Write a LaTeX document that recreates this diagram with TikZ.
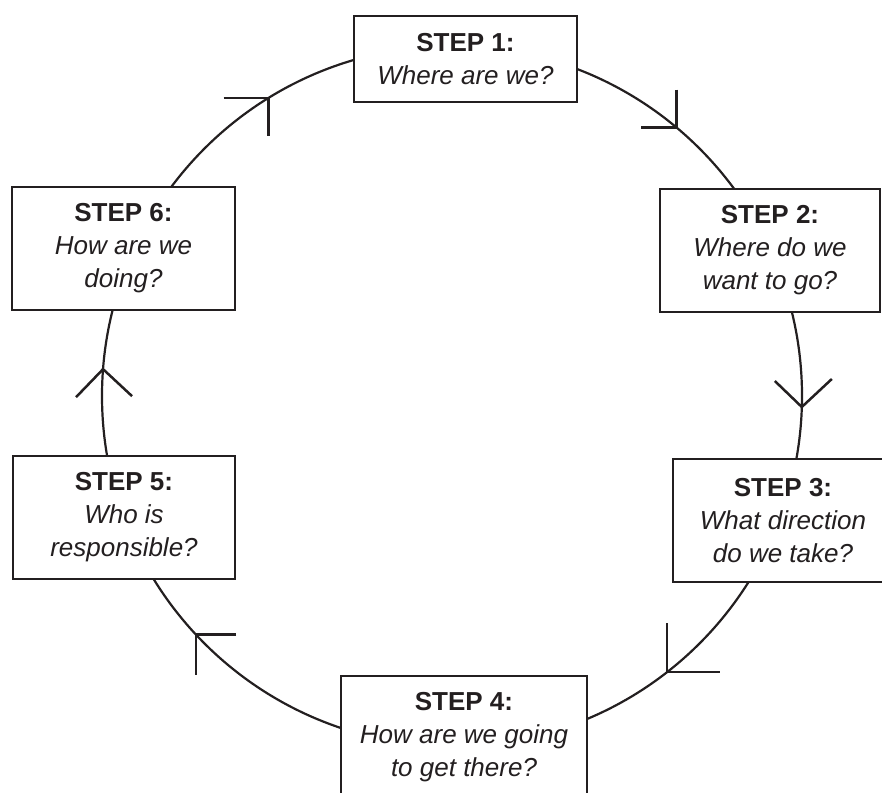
\documentclass[tikz,border=0pt]{standalone}
\usepackage{fontspec}
\setmainfont{Liberation Sans}
\usetikzlibrary{calc}
\definecolor{ink}{HTML}{231F20}
\begin{document}
\begin{tikzpicture}[x=1pt,y=-1pt,
  stepbox/.style={draw=ink, line width=2.7pt, fill=white, inner sep=0pt,
    align=center, text=ink, font=\fontsize{26}{33}\selectfont,
    minimum width=#1, minimum height=123pt},
  ring/.style={draw=ink, line width=2.2pt},
  arm/.style={draw=ink, line width=2.5pt}]
\useasboundingbox (0,0) rectangle (882,792);
\clip (0,0) rectangle (882,792);
\coordinate (c) at (452,396);
\draw[ring] (c) circle[radius=350pt];
\node[stepbox=223pt, minimum height=86pt] (s1) at (465.5,59) {\textbf{STEP 1:}\\\textit{Where are we?}};
\node[stepbox=220pt] (s2) at (770,250.5) {\textbf{STEP 2:}\\\textit{Where do we}\\\textit{want to go?}};
\node[stepbox=220pt] (s3) at (783,520.5) {\textbf{STEP 3:}\\\textit{What direction}\\\textit{do we take?}};
\node[stepbox=246pt] (s4) at (464,737.5) {\textbf{STEP 4:}\\\textit{How are we going}\\\textit{to get there?}};
\node[stepbox=222pt] (s5) at (124,517.5) {\textbf{STEP 5:}\\\textit{Who is}\\\textit{responsible?}};
\node[stepbox=223pt] (s6) at (123.5,248.5) {\textbf{STEP 6:}\\\textit{How are we}\\\textit{doing?}};
\coordinate (a1) at ($(c)+(-121.6:350)$);
\coordinate (a2) at ($(c)+(-50.1:350)$);
\coordinate (a3) at ($(c)+(1.8:350)$);
\coordinate (a4) at ($(c)+(52.1:350)$);
\coordinate (a5) at ($(c)+(137:350)$);
\coordinate (a6) at ($(c)+(184.4:350)$);
\draw[arm] ($(a1)+(-45,0)$) -- (a1) -- ++(0,38);
\draw[arm] ($(a2)+(0,-38)$) -- (a2) -- ++(-36,0);
\draw[arm] ($(a3)+(-27,-26)$) -- (a3) -- ++(30,-28);
\draw[arm] ($(a4)+(0,-49)$) -- (a4) -- ++(53,0);
\draw[arm] ($(a5)+(40,0)$) -- (a5) -- ++(0,40);
\draw[arm] ($(a6)+(-27,28)$) -- (a6) -- ++(29,27);
\end{tikzpicture}
\end{document}
